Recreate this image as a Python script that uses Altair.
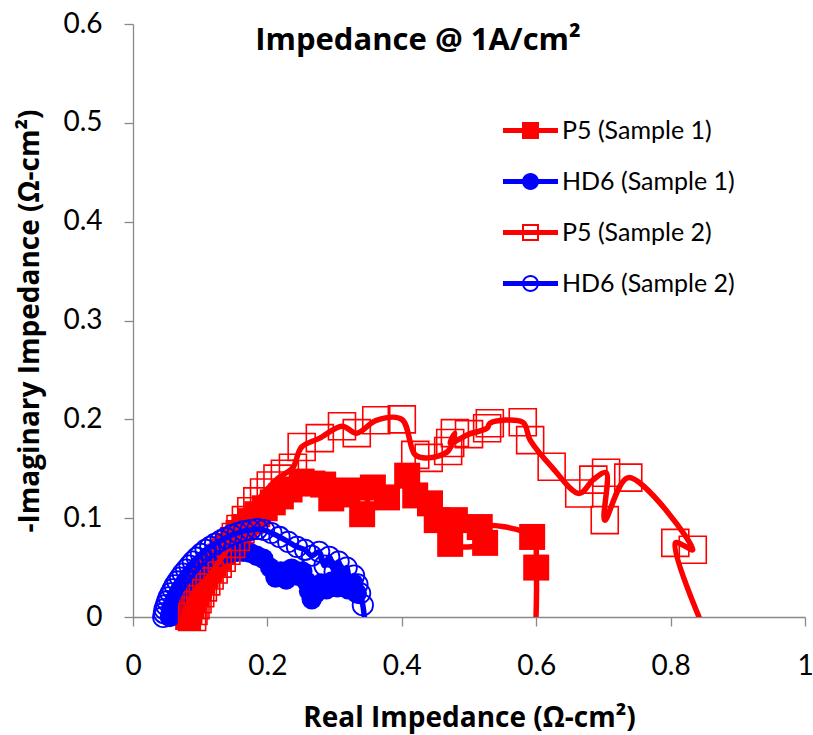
import altair as alt
import pandas as pd

# ---------------- data ----------------
series_names = ["P5 (Sample 1)", "HD6 (Sample 1)", "P5 (Sample 2)", "HD6 (Sample 2)"]
series_colors = ["#FF0000", "#0000FF", "#FF0000", "#0000FF"]

p5_s1_x = [0.082, 0.084, 0.087, 0.090, 0.094, 0.098, 0.103, 0.108, 0.114, 0.120,
           0.127, 0.134, 0.141, 0.149, 0.157, 0.166, 0.175, 0.185, 0.196, 0.208,
           0.220, 0.233, 0.251, 0.267, 0.283, 0.295, 0.310, 0.319, 0.341, 0.357,
           0.378, 0.408, 0.420, 0.442, 0.452, 0.479, 0.472, 0.524, 0.516, 0.594,
           0.600, 0.597]
p5_s1_y = [0.000, 0.006, 0.012, 0.018, 0.024, 0.030, 0.036, 0.042, 0.048, 0.054,
           0.060, 0.066, 0.072, 0.078, 0.085, 0.091, 0.097, 0.104, 0.110, 0.116,
           0.122, 0.129, 0.137, 0.135, 0.134, 0.120, 0.124, 0.128, 0.104, 0.131,
           0.121, 0.143, 0.123, 0.115, 0.098, 0.098, 0.074, 0.075, 0.091, 0.081,
           0.050, -0.050]

hd6_s1_x = [0.055, 0.056, 0.058, 0.060, 0.062, 0.065, 0.068, 0.071, 0.075, 0.079,
            0.083, 0.088, 0.093, 0.098, 0.104, 0.110, 0.116, 0.123, 0.130, 0.138,
            0.146, 0.155, 0.164, 0.174, 0.184, 0.194, 0.204, 0.212, 0.220, 0.228,
            0.236, 0.244, 0.252, 0.258, 0.262, 0.266, 0.272, 0.280, 0.288, 0.296,
            0.304, 0.312, 0.320, 0.328, 0.333]
hd6_s1_y = [0.000, 0.004, 0.008, 0.012, 0.016, 0.020, 0.024, 0.028, 0.032, 0.036,
            0.039, 0.043, 0.046, 0.049, 0.052, 0.055, 0.058, 0.060, 0.062, 0.064,
            0.065, 0.066, 0.066, 0.065, 0.062, 0.059, 0.050, 0.040, 0.046, 0.038,
            0.049, 0.042, 0.046, 0.036, 0.026, 0.018, 0.024, 0.034, 0.028, 0.036,
            0.030, 0.032, 0.028, 0.034, 0.024]

p5_s2_x = [0.088, 0.090, 0.093, 0.096, 0.100, 0.104, 0.109, 0.114, 0.120, 0.126,
           0.132, 0.139, 0.146, 0.153, 0.160, 0.168, 0.176, 0.185, 0.195, 0.205,
           0.215, 0.226, 0.238, 0.251, 0.278, 0.311, 0.333, 0.362, 0.400, 0.420,
           0.440, 0.469, 0.479, 0.472, 0.500, 0.527, 0.531, 0.580, 0.591, 0.623,
           0.664, 0.685, 0.704, 0.702, 0.737, 0.833, 0.807, 0.880]
p5_s2_y = [0.000, 0.006, 0.012, 0.018, 0.024, 0.030, 0.036, 0.042, 0.048, 0.054,
           0.060, 0.067, 0.074, 0.081, 0.089, 0.098, 0.107, 0.117, 0.126, 0.133,
           0.140, 0.145, 0.151, 0.172, 0.181, 0.193, 0.186, 0.199, 0.200, 0.164,
           0.161, 0.168, 0.186, 0.176, 0.185, 0.191, 0.196, 0.197, 0.179, 0.152,
           0.125, 0.139, 0.146, 0.098, 0.141, 0.068, 0.075, -0.060]

hd6_s2_x = [0.045, 0.046, 0.047, 0.049, 0.051, 0.053, 0.056, 0.059, 0.062, 0.066,
            0.070, 0.074, 0.079, 0.084, 0.089, 0.095, 0.101, 0.108, 0.115, 0.122,
            0.130, 0.138, 0.147, 0.156, 0.165, 0.175, 0.185, 0.195, 0.206, 0.218,
            0.231, 0.244, 0.256, 0.266, 0.277, 0.285, 0.292, 0.300, 0.306, 0.312,
            0.318, 0.324, 0.329, 0.334, 0.338, 0.342, 0.350]
hd6_s2_y = [0.000, 0.004, 0.008, 0.012, 0.016, 0.020, 0.024, 0.028, 0.032, 0.036,
            0.040, 0.044, 0.048, 0.052, 0.056, 0.060, 0.064, 0.068, 0.071, 0.074,
            0.077, 0.080, 0.083, 0.085, 0.087, 0.088, 0.089, 0.088, 0.085, 0.081,
            0.076, 0.071, 0.068, 0.062, 0.066, 0.052, 0.061, 0.046, 0.056, 0.036,
            0.050, 0.030, 0.042, 0.033, 0.024, 0.012, -0.040]

x_ticks = [0, 0.2, 0.4, 0.6, 0.8, 1.0]
y_ticks = [0, 0.1, 0.2, 0.3, 0.4, 0.5, 0.6]


def frame(xs, ys, name):
    return pd.DataFrame({"x": xs, "y": ys, "i": list(range(len(xs))), "series": name})


frames = [
    frame(p5_s1_x, p5_s1_y, series_names[0]),
    frame(hd6_s1_x, hd6_s1_y, series_names[1]),
    frame(p5_s2_x, p5_s2_y, series_names[2]),
    frame(hd6_s2_x, hd6_s2_y, series_names[3]),
]

# ---------------- styling ----------------
GREY = "#898989"
FONT = "Lato"
TFONT = "Open Sans"

x_enc = alt.X(
    "x:Q",
    scale=alt.Scale(domain=[0, 1], nice=False, zero=False),
    axis=alt.Axis(values=x_ticks, format="~g", title="Real Impedance (Ω-cm²)",
                  labelPadding=26, labelFlush=False, labelOverlap=False,
                  titleBaseline="middle", titleY=101),
)
y_enc = alt.Y(
    "y:Q",
    scale=alt.Scale(domain=[0, 0.6], nice=False, zero=False),
    axis=alt.Axis(values=y_ticks, format="~g", title="-Imaginary Impedance (Ω-cm²)",
                  labelPadding=22, labelFlush=False, labelOverlap=False,
                  titleBaseline="middle", titleX=-103),
)

marker_style = [
    dict(shape="square", filled=True, size=676, strokeWidth=0),
    dict(shape="circle", filled=True, size=415, strokeWidth=0),
    dict(shape="square", filled=False, size=729, strokeWidth=1.6),
    dict(shape="circle", filled=False, size=415, strokeWidth=1.8),
]

layers = []
for df, col, ms in zip(frames, series_colors, marker_style):
    line = alt.Chart(df).mark_line(
        color=col, strokeWidth=5.5, interpolate="catmull-rom", clip=True,
        strokeCap="round", strokeJoin="round"
    ).encode(x=x_enc, y=y_enc, order=alt.Order("i:Q"))
    pts = alt.Chart(df).transform_filter("datum.y >= 0").mark_point(
        color=col, opacity=1, **ms
    ).encode(x=x_enc, y=y_enc)
    layers += [line, pts]

# legend symbols: line + marker drawn as custom paths
LINE = "M-1.5,-0.13H1.5V0.13H-1.5Z "
SQ_OUT = "M-0.464,-0.464H0.464V0.464H-0.464Z "
SQ_IN = "M-0.355,-0.355V0.355H0.355V-0.355Z"
CI_OUT = "M0.464,0A0.464,0.464 0 1,1 -0.464,0A0.464,0.464 0 1,1 0.464,0Z "
CI_IN = "M0.355,0A0.355,0.355 0 1,0 -0.355,0A0.355,0.355 0 1,0 0.355,0Z"
legend_paths = [LINE + SQ_OUT, LINE + CI_OUT, LINE + SQ_OUT + SQ_IN, LINE + CI_OUT + CI_IN]

legend_def = alt.Legend(
    title=None, orient="none", legendX=379, legendY=88, padding=0,
    symbolSize=1344, symbolStrokeWidth=0, labelFont=FONT, labelFontSize=25,
    labelColor="#000000", labelOffset=13, rowPadding=19, labelLimit=400,
)
legend_layer = alt.Chart(pd.DataFrame({"series": series_names})).transform_filter(
    "false"
).mark_point(filled=True, opacity=1, strokeWidth=0).encode(
    shape=alt.Shape("series:N", scale=alt.Scale(domain=series_names, range=legend_paths),
                    legend=legend_def),
    fill=alt.Fill("series:N", scale=alt.Scale(domain=series_names, range=series_colors),
                  legend=legend_def),
)
layers.append(legend_layer)

chart = (
    alt.layer(*layers)
    .properties(
        width=672,
        height=593,
        background="white",
        padding={"left": 133, "top": 24, "right": 8, "bottom": 118},
        autosize=alt.AutoSizeParams(type="none"),
        title=alt.TitleParams(
            "Impedance @ 1A/cm²", font=TFONT, fontSize=31, fontWeight="bold",
            color="#000000", anchor="middle", frame="group", baseline="alphabetic",
            dx=-51, dy=71, offset=0,
        ),
    )
    .configure_view(stroke=None)
    .configure_axis(
        grid=False, domainColor=GREY, tickColor=GREY, domainWidth=1.3, tickWidth=1.3,
        tickSize=9, labelFont=FONT, labelFontSize=28, labelColor="#000000",
        titleFont=TFONT, titleFontSize=28, titleFontWeight="bold", titleColor="#000000",
    )
)

chart.save("out.html", embed_options={"renderer": "svg", "actions": False})
